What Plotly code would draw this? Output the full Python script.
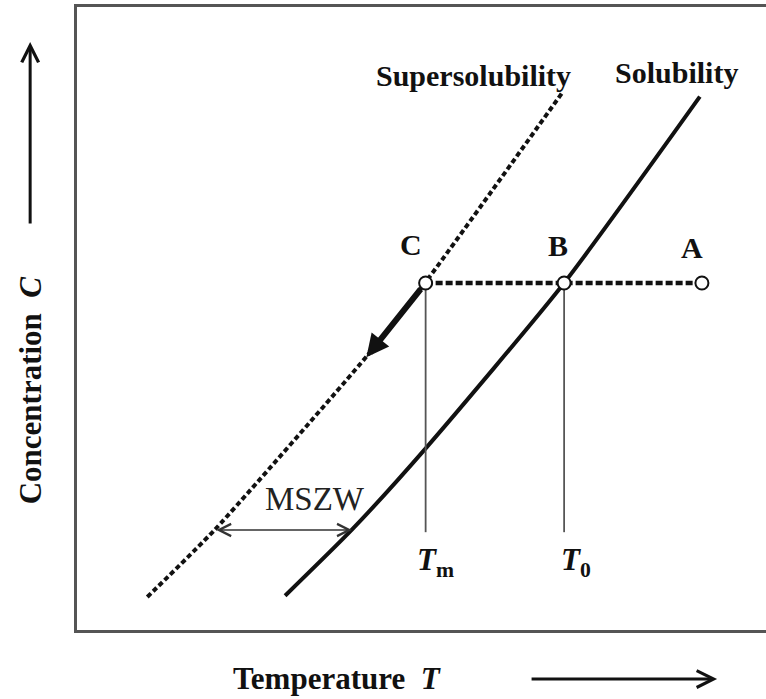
import plotly.graph_objects as go

# Schematic solubility / supersolubility diagram (arbitrary units, 0-100 on both axes)
sol_T = [30.2, 39.9, 50.8, 70.7, 90.4]
sol_C = [5.5, 16.1, 29.4, 55.7, 85.6]

sup_T = [10.2, 20.0, 42.1, 50.5, 70.4]
sup_C = [5.3, 16.1, 44.0, 55.7, 86.2]

# Cooling path A -> B -> C at constant concentration
path_labels = ["C", "B", "A"]
path_T = [50.6, 70.7, 90.7]
path_C = [55.7, 55.7, 55.7]

# Temperatures marked on the diagram
T_m = 50.6
T_0 = 70.7
T_line_bottom = 15.7

# Metastable zone width arrow
mszw_C = 16.05
mszw_T_start = 20.0
mszw_T_end = 39.9

# Thick arrow tip along the supersolubility curve
arrow_tip_T = 42.0
arrow_tip_C = 43.8

FONT = "Liberation Serif, Times New Roman, serif"
INK = "#111111"
FRAME = "#555555"

fig = go.Figure()

fig.add_trace(go.Scatter(
    x=sup_T, y=sup_C, mode="lines",
    line=dict(color=INK, width=4, dash="5px,3px", shape="spline", smoothing=0.6),
    hoverinfo="skip", showlegend=False,
))
fig.add_trace(go.Scatter(
    x=sol_T, y=sol_C, mode="lines",
    line=dict(color=INK, width=4, shape="spline", smoothing=0.6),
    hoverinfo="skip", showlegend=False,
))

# Vertical guide lines down from C and B
for t in (T_m, T_0):
    fig.add_trace(go.Scatter(
        x=[t, t], y=[path_C[0], T_line_bottom], mode="lines",
        line=dict(color=FRAME, width=1.8),
        hoverinfo="skip", showlegend=False,
    ))

# Dashed isoconcentration line with open markers
fig.add_trace(go.Scatter(
    x=path_T, y=path_C, mode="lines+markers",
    line=dict(color=INK, width=4.5, dash="7px,3px"),
    marker=dict(symbol="circle", size=13, color="white", line=dict(color=INK, width=2)),
    hoverinfo="skip", showlegend=False,
))

ann = []

# Bold thick arrow from C along the supersolubility curve
ann.append(dict(
    x=arrow_tip_T, y=arrow_tip_C, ax=path_T[0], ay=path_C[0],
    xref="x", yref="y", axref="x", ayref="y",
    showarrow=True, arrowhead=2, arrowsize=0.75, arrowwidth=6,
    arrowcolor=INK, startstandoff=6, text="",
))

# MSZW double-headed arrow
ann.append(dict(
    x=mszw_T_end, y=mszw_C, ax=mszw_T_start, ay=mszw_C,
    xref="x", yref="y", axref="x", ayref="y",
    showarrow=True, arrowside="end+start",
    arrowhead=5, startarrowhead=5, arrowsize=1.6, startarrowsize=1.6,
    arrowwidth=1.5, arrowcolor="#333333", text="",
))
ann.append(dict(
    x=(mszw_T_start + mszw_T_end) / 2, y=mszw_C, xref="x", yref="y",
    text="MSZW", showarrow=False, xshift=32, yshift=31,
    xanchor="center", yanchor="middle",
    font=dict(family=FONT, size=33, color="#222222"),
))

# Point labels
label_shift = {"C": (-15, 38), "B": (-6, 37), "A": (-10, 35)}
for lab, t, c in zip(path_labels, path_T, path_C):
    dx, dy = label_shift[lab]
    ann.append(dict(
        x=t, y=c, xref="x", yref="y", text=f"<b>{lab}</b>", showarrow=False,
        xshift=dx, yshift=dy, xanchor="center", yanchor="middle",
        font=dict(family=FONT, size=30, color=INK),
    ))

# Curve names
ann.append(dict(
    x=sup_T[-1], y=sup_C[-1], xref="x", yref="y", text="<b>Supersolubility</b>",
    showarrow=False, xshift=-89, yshift=17, xanchor="center", yanchor="middle",
    font=dict(family=FONT, size=30, color=INK),
))
ann.append(dict(
    x=sol_T[-1], y=sol_C[-1], xref="x", yref="y", text="<b>Solubility</b>",
    showarrow=False, xshift=-23, yshift=24, xanchor="center", yanchor="middle",
    font=dict(family=FONT, size=30, color=INK),
))

# Temperature marks
ann.append(dict(
    x=T_m, y=T_line_bottom, xref="x", yref="y",
    text="<b><i>T</i></b><sub><b>m</b></sub>", showarrow=False,
    xshift=10, yshift=-30, xanchor="center", yanchor="middle",
    font=dict(family=FONT, size=31, color=INK),
))
ann.append(dict(
    x=T_0, y=T_line_bottom, xref="x", yref="y",
    text="<b><i>T</i></b><sub><b>0</b></sub>", showarrow=False,
    xshift=12, yshift=-30, xanchor="center", yanchor="middle",
    font=dict(family=FONT, size=31, color=INK),
))

# Axis titles with direction arrows
ann.append(dict(
    x=-0.068, y=0.385, xref="paper", yref="paper",
    text="<b>Concentration  <i>C</i></b>", textangle=-90, showarrow=False,
    xanchor="center", yanchor="middle",
    font=dict(family=FONT, size=31, color=INK),
))
ann.append(dict(
    x=-0.068, y=0.944, ax=0, ay=183,
    xref="paper", yref="paper", axref="pixel", ayref="pixel",
    showarrow=True, arrowhead=5, arrowsize=1.1, arrowwidth=3,
    arrowcolor=INK, text="",
))
ann.append(dict(
    x=0.377, y=-0.0775, xref="paper", yref="paper",
    text="<b>Temperature  <i>T</i></b>", showarrow=False,
    xanchor="center", yanchor="middle",
    font=dict(family=FONT, size=31, color=INK),
))
ann.append(dict(
    x=0.929, y=-0.0787, ax=-187, ay=0,
    xref="paper", yref="paper", axref="pixel", ayref="pixel",
    showarrow=True, arrowhead=5, arrowsize=1.1, arrowwidth=3,
    arrowcolor=INK, text="",
))

fig.update_layout(
    width=766, height=699,
    margin=dict(l=77, r=0, t=7, b=69),
    paper_bgcolor="white", plot_bgcolor="white",
    annotations=ann,
    xaxis=dict(range=[0, 100], showgrid=False, zeroline=False, showticklabels=False,
               ticks="", showline=True, mirror=True, linecolor=FRAME, linewidth=2.5),
    yaxis=dict(range=[0, 100], showgrid=False, zeroline=False, showticklabels=False,
               ticks="", showline=True, mirror=False, linecolor=FRAME, linewidth=2.5),
)

fig.write_html("out.html", config={"displayModeBar": False})
